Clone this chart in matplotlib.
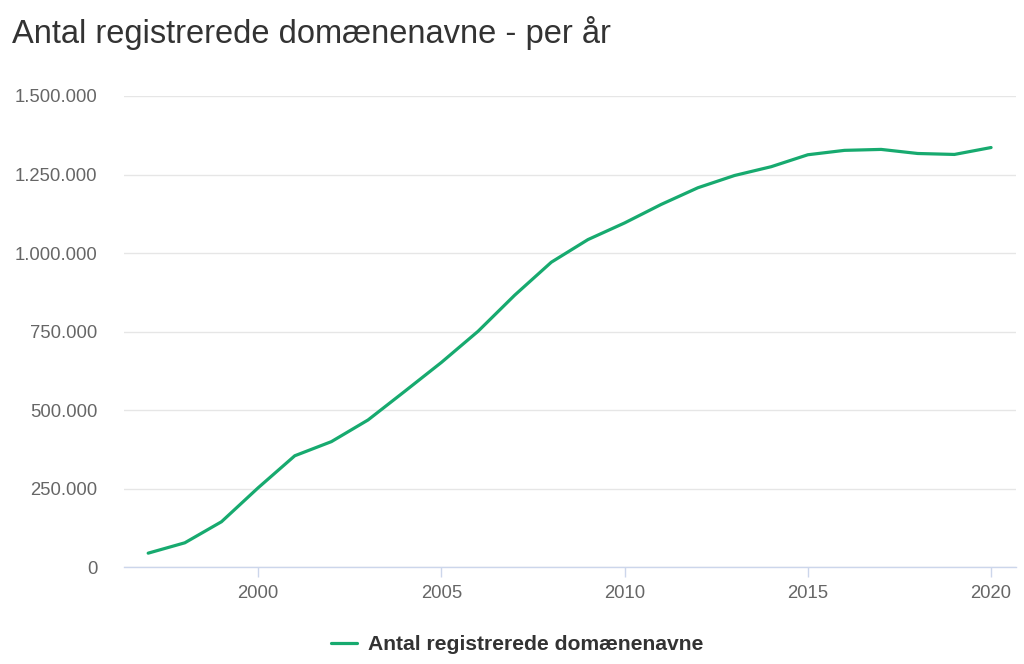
import matplotlib
matplotlib.use("Agg")
import matplotlib.pyplot as plt
from matplotlib.ticker import FuncFormatter

plt.rcParams["font.family"] = ["Liberation Sans", "DejaVu Sans"]

years = list(range(1997, 2021))
domains = [45000, 78000, 145000, 253000, 355000, 400000, 469000, 560000,
           652000, 751000, 866000, 971000, 1043000, 1096000, 1155000, 1208000,
           1247000, 1275000, 1313000, 1327000, 1330000, 1317000, 1314000, 1336000]
series_name = "Antal registrerede domænenavne"
title = "Antal registrerede domænenavne - per år"
yticks = [0, 250000, 500000, 750000, 1000000, 1250000, 1500000]
xticks = [2000, 2005, 2010, 2015, 2020]

GREEN = "#17aa6f"
GRID = "#e6e6e6"
AXIS = "#ccd6eb"
LABEL = "#666666"

fig = plt.figure(figsize=(10.24, 6.64), dpi=100)
ax = fig.add_axes([124 / 1024, 1 - 567.3 / 664, (1016 - 124) / 1024, (567.3 - 96) / 664])

ax.plot(years, domains, color=GREEN, linewidth=2.3, solid_capstyle="round",
        solid_joinstyle="round", label=series_name, zorder=3)

ax.set_xlim(1996.34, 2020.68)
ax.set_ylim(0, 1500000)
ax.set_yticks(yticks)
ax.set_xticks(xticks)

def dk(v, pos):
    return f"{int(v):,}".replace(",", ".")

ax.yaxis.set_major_formatter(FuncFormatter(dk))
ax.grid(True, axis="y", color=GRID, linewidth=1)
ax.set_axisbelow(True)

for s in ["top", "right", "left"]:
    ax.spines[s].set_visible(False)
ax.spines["bottom"].set_color(AXIS)
ax.spines["bottom"].set_linewidth(1)

ax.tick_params(axis="y", length=0, pad=19, labelsize=13.3, labelcolor=LABEL)
ax.tick_params(axis="x", length=7, width=1, color=AXIS, pad=6,
               labelsize=13.3, labelcolor=LABEL)

fig.text(12 / 1024, 1 - 33 / 664, title, fontsize=23.5, color="#333333",
         ha="left", va="center")

leg = fig.legend(loc="center", bbox_to_anchor=(517 / 1024, 1 - 645 / 664),
                 frameon=False, handlelength=1.25, handletextpad=0.5,
                 prop={"size": 15.2, "weight": "bold"})
for t in leg.get_texts():
    t.set_color("#333333")

fig.savefig("out.png", dpi=100)
